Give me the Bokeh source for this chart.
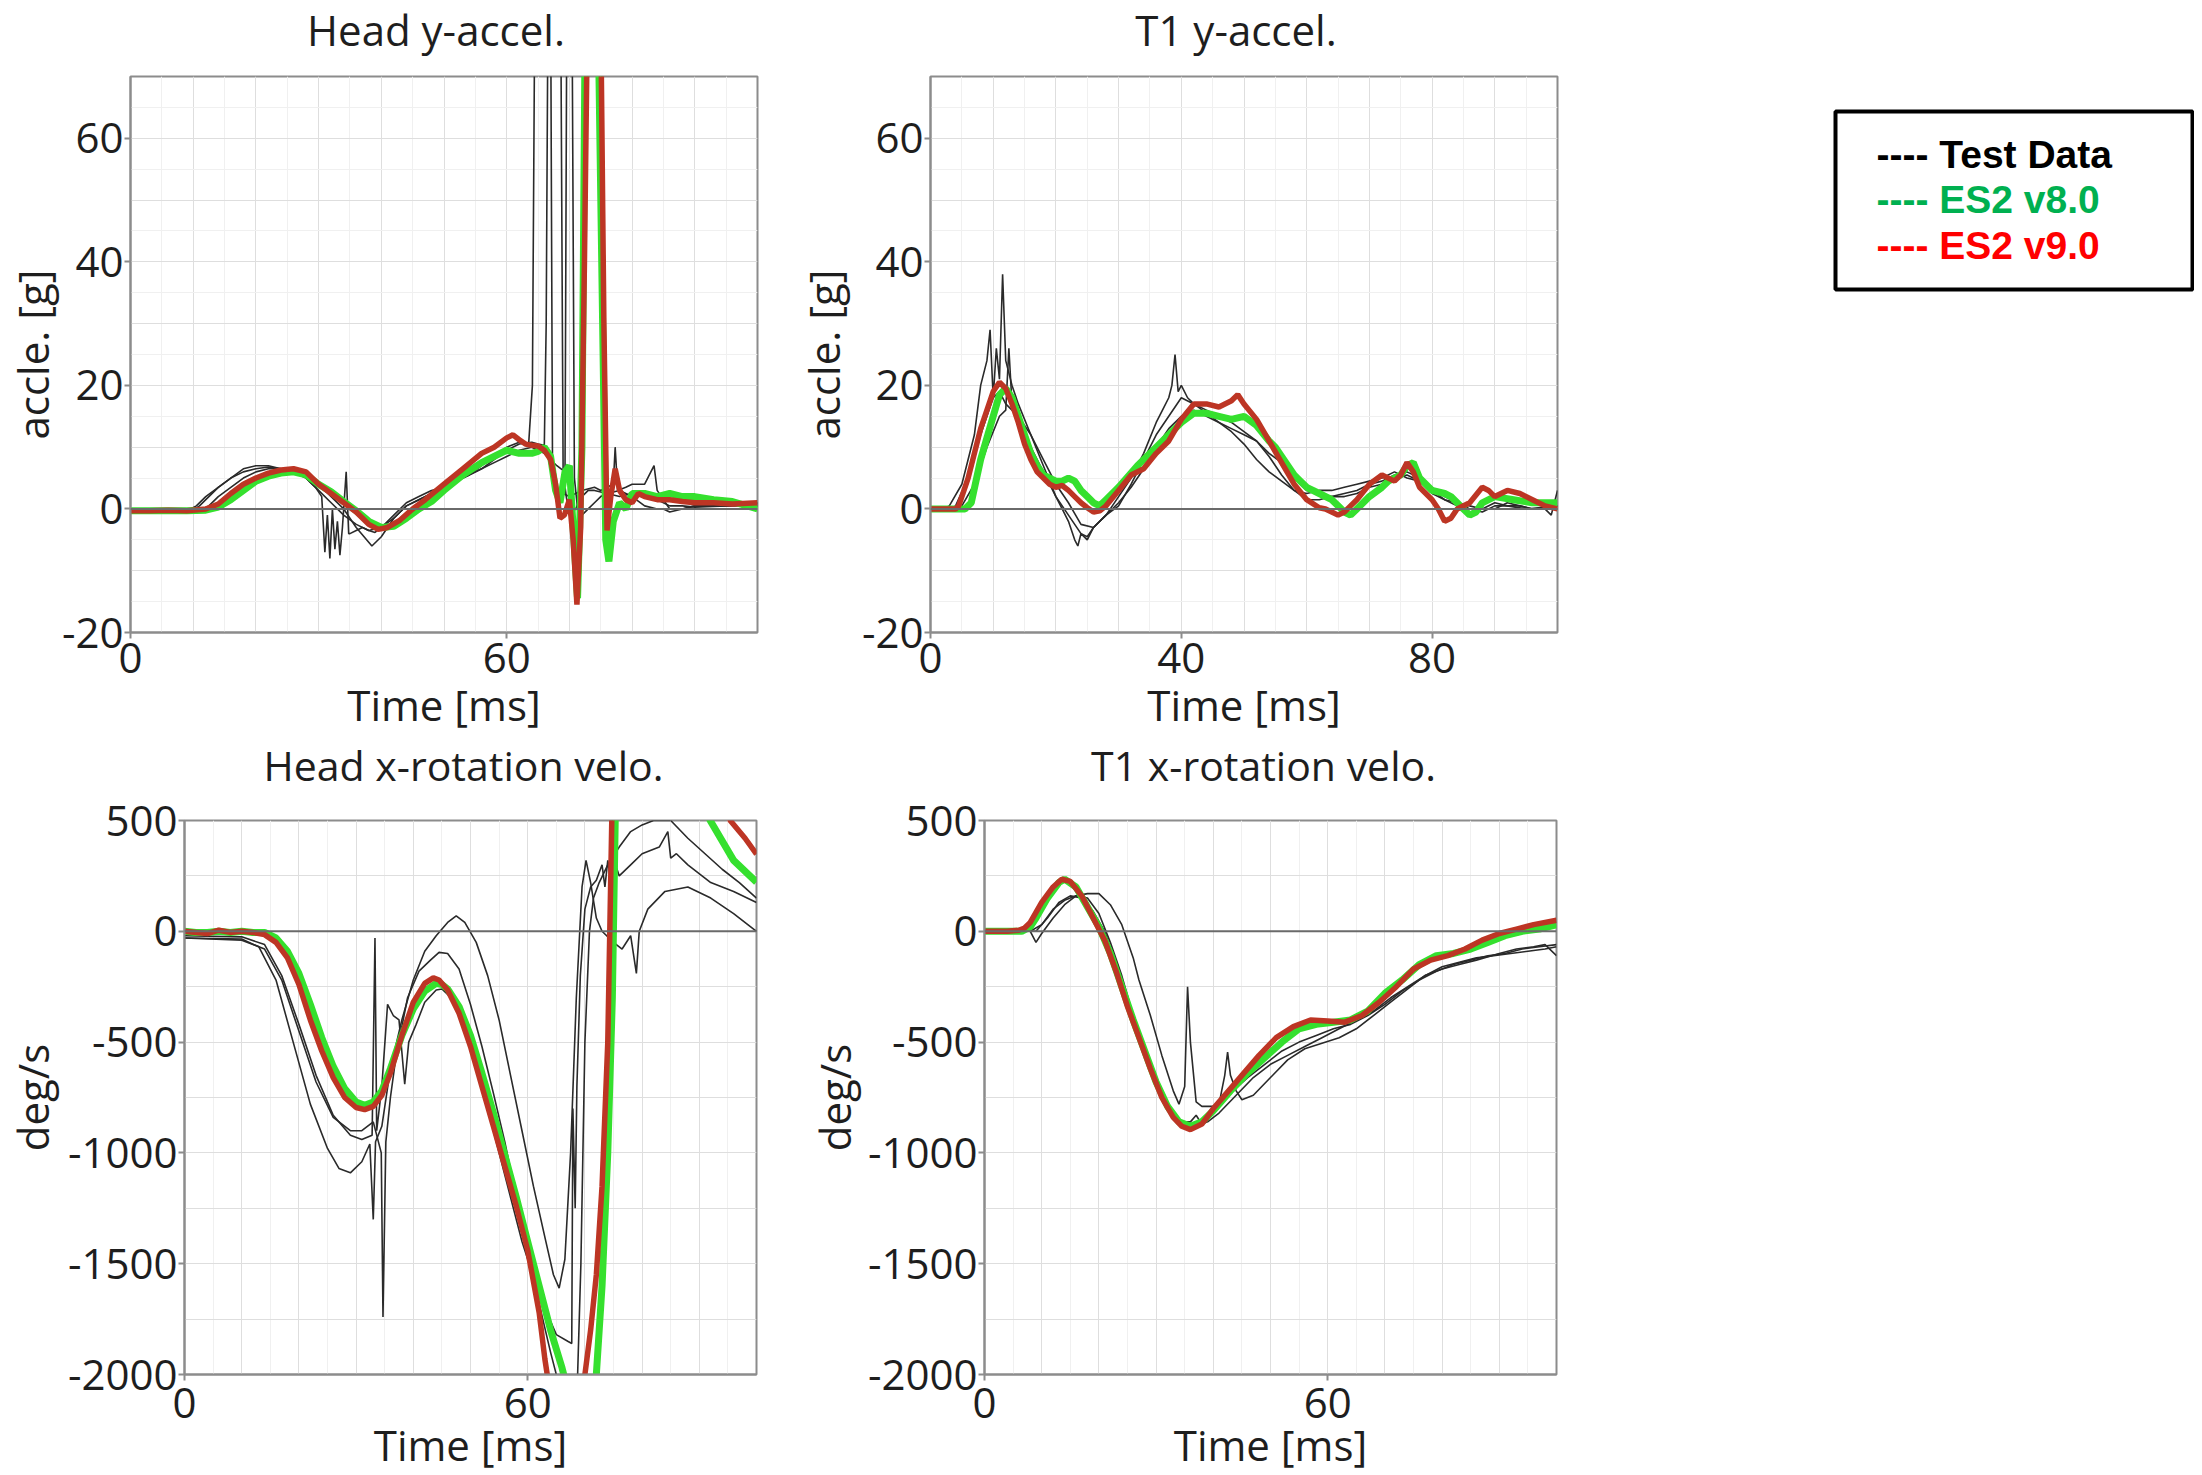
from bokeh.plotting import figure
from bokeh.layouts import row, column
from bokeh.models import Range1d, FixedTicker, Span
from bokeh.embed import file_html
from bokeh.resources import INLINE
from bokeh.core.properties import value

# ---------------- DATA ----------------
panel_titles = ["Head y-accel.", "T1 y-accel.", "Head x-rotation velo.", "T1 x-rotation velo."]
time_ticks_head = [0, 60]
time_ticks_t1acc = [0, 40, 80]
time_ticks_rot = [0, 60]
accel_ticks = [-20, 0, 20, 40, 60]
rot_ticks = [-2000, -1500, -1000, -500, 0, 500]

legend_labels = ["---- Test Data", "---- ES2 v8.0", "---- ES2 v9.0"]
legend_colors = ["#000000", "#00b050", "#ff0000"]

# Head y-accel. [g]
head_acc_v9_t = [0,3,6,9,12,14,16,18,20,22,24,26,28,30,32,34,36,38,39.5,41,43,45,47,50,53,56,58,60,61,62,63,64,65,66,67,67.8,68.5,69.2,70,70.6,71.2,71.8,72.4,73,74,75,75.5,76,76.6,77.3,78,79,80,81,82,84,86,88,90,93,96,100]
head_acc_v9_v = [-0.3,-0.3,-0.2,-0.3,0,0.8,2.5,4,5,5.8,6.3,6.5,6,4,2.5,1,-0.5,-2.5,-3.3,-3,-1.8,0,1.5,4,6.5,9,10,11.5,12,11.2,10.5,10.3,10.2,9.5,8,4,-1.5,-1,1.5,-5,-15.5,-3,40,90,90,80,30,-3.5,2,6.5,3,1.5,1,2.5,2,1.5,1.5,1.2,1,1,0.8,1]
head_acc_v8_t = [0,3,6,9,12,14,16,18,20,22,24,26,28,30,32,34,36,38,40,42,44,46,48,50,53,56,58,60,62,64,65,66,67,67.8,68.5,69.3,70,70.6,71.3,72,72.6,73.2,74.5,75.3,75.8,76.3,77,78,79,80,82,84,86,88,90,93,96,100]
head_acc_v8_v = [-0.3,-0.3,-0.3,-0.3,-0.2,0.3,1.5,3,4.5,5.3,5.8,6,5.5,4,2.8,1.2,-0.3,-2,-3,-2.8,-1.5,0,1.2,3,5.5,7.5,8.5,9.5,9,9,9.3,10,8.5,3,1,6,7,-3,-14.5,10,90,90,85,30,-5,-8.5,-2,1,0,2.5,2.5,2,2.5,2,2,1.5,1.2,0]
head_acc_test1_t = [0,5,9,10.5,12,14,16,18,20,22,24,26,28,30,32,34,36,38.5,40,42,44,46,48,50,52,54,56,58,60,62,63.5,64.1,64.5,67.0,67.3,68,70,72,74,75,76,77,77.3,77.7,79,80,82,83.5,84,86,88,90,95,100]
head_acc_test1_v = [-0.5,-0.5,-0.3,0.5,2,3.5,5,6.5,7,7,6.5,6,5.5,4,2,0,-3,-6,-4.5,-1.5,0.5,1.5,2.5,3.5,4.5,5.5,7,8.5,10,10.8,10.5,20,85,85,8,3,2,3,3.5,3,3.5,4,10,3,3.5,4,4,7,3,0,0,0.5,0.5,1]
head_acc_test2_t = [0,5,10,11,12.5,14,16,18,20,22,24,26,28,29.5,30.5,31,31.4,31.8,32.2,32.6,33,33.4,33.8,34.4,34.8,35,36,37,38,39,40,42,44,46,48,50,52,54,56,58,60,62,64,65,66,66.3,66.6,68.6,69,69.5,70,71,72,73,74,76,78,80,82,84,86,88,90,95,100]
head_acc_test2_v = [-0.3,-0.3,-0.2,0.5,2,3.5,5,6,6.5,6.8,6.5,6,5,3.5,2,-7,-1,-8,0,-6.5,-2,-7.5,-3,6,-4,-4,-3.5,-3,-3.5,-3.8,-3,-1,1,2,3,3.5,4.5,5.5,6.5,8,9.5,10.5,10.8,10.5,10.3,30,85,85,6,2,-1,0,2,3,3,2.5,2,2.5,2,1.5,0.5,0.5,0.3,0.5,0.8]
head_acc_test3_t = [0,6,11,12.5,14,16,18,20,22,24,26,28,30,32,34,36,38,40,42,44,46,48,50,52,54,56,58,60,62,64,66,68,69.3,69.6,70.4,70.8,71.5,72,73,74,75,76,78,80,82,84,85,86,88,90,95,100]
head_acc_test3_v = [-0.5,-0.5,-0.3,0.5,2,3.5,5,6,6.5,6.5,6,5,3,1,-1,-2.5,-3.5,-3,-1.5,0.5,1.5,2.5,3.5,4.5,5.5,6.5,7.5,8.5,9.5,10,9,7,6,85,85,5,-2,-1,0,1,2,2.5,3,2,0.5,0,0,-0.5,0,0.5,0.5,0.5]

# T1 y-accel. [g]
t1_acc_v9_t = [0,2,4,4.5,6,8,10,11,12,13,14,15,16,17,18,19,20,21,22,23,24,25,26,27,28,30,32,34,36,38,40,42,44,46,48,49,50,52,54,56,58,60,62,63,64,65,66,67,68,70,72,74,75,76,77,78,80,81,82,83,84,86,88,89,90,92,94,96,98,100]
t1_acc_v9_v = [0,0,0,0.5,5,13,19,20.5,19.5,17,14,10.5,8,6,5,4,3.5,3.8,3,2,1,0.2,-0.5,-0.3,0.5,3,5.5,6.5,9,11,14.5,17,17,16.5,17.5,18.5,17,14.5,11,7.5,4,1.5,0.2,0,-0.5,-1,-0.5,0.5,1.5,4,5.5,4.5,5.5,7.5,6,3.5,1.5,0,-2,-1.5,0,1,3.5,3,2,3,2.5,1.5,0.5,0]
t1_acc_v8_t = [0,3,5.5,6.5,8,10,11,12,13,14,15,16,17,18,19,20,21,22,23,24,25,26,27,28,30,33,36,38,40,42,44,46,48,50,52,54,55,56,57,58,59,60,62,64,65,66,67,68,70,72,73,74,75,76,77,78,80,82,83,84,85,86,87,88,90,93,96,100]
t1_acc_v8_v = [0,0,0,1,8,15,18.5,19.5,18,15,12,9,7,5.5,5,4.5,4.5,5,4.5,3,2,1,0.5,1.5,3.5,7,10,12,14,15.5,15.5,15,14.5,15,13.5,11,10,8.5,7,5.5,4.5,3.5,2.5,1.5,0.5,-0.5,-1,0,2,3.5,4.5,5,5.5,7,7.5,5,3,2.5,2,1,0,-1,-0.5,1,2,1.5,1,1]
t1_acc_test1_t = [0,2,3,5,7,8,9,9.5,10,10.5,11,11.5,12,13,14,16,18,20,21,22,23,23.5,24,25,26,27,28,29,30,32,34,36,37,38,38.5,39,39.5,40,41,42,44,46,48,50,52,54,56,58,60,62,64,66,68,70,72,74,76,78,80,82,84,86,88,90,92,94,96,98,99,100]
t1_acc_test1_v = [0,0,0.5,4,12,20,24,29,18,26,21,38,24,20,17,12,7,2,0,-2,-5,-6,-4,-5,-3,-2,-1,0.5,2,5,9,14,16,18,20,25,19,20,18,17,15.5,14,12.5,10.5,8,6,4.5,3,2.5,3,3,3.5,4,4.5,5,6,5,4.5,2.5,1.5,1,0,0,1,0.5,0.5,0,0,-1,3]
t1_acc_test2_t = [0,3,4,6,8,10,11,12,13,14,16,18,20,22,24,25,26,28,30,32,34,36,38,40,42,44,46,48,50,52,54,56,58,60,62,64,66,68,70,72,74,76,78,80,82,84,86,88,90,92,95,100]
t1_acc_test2_v = [0,0,0.5,5,12,18,19,17,16,15,10,6,2,-1,-4,-4.5,-3,-1,0.5,4,8,12,15,18,17,16,15,14,12.5,11,9,7.5,5,3,2.5,2,2,2.5,3.5,4,5,5.5,4.5,3,1.5,0.5,0,-0.5,0.5,0.5,0,0.5]
t1_acc_test3_t = [0,4,5,7,9,11,12,12.5,13,14,16,18,20,22,24,26,28,30,32,34,36,38,40,42,44,46,48,50,52,54,56,58,60,62,64,66,68,70,72,74,76,78,80,82,84,86,88,90,92,94,96,98,100]
t1_acc_test3_v = [0,0,0.5,4,10,15,16,26,17,15,12,8,4,1,-2.5,-3,-1,1,3.5,6.5,10,13,15,16,15,14,13,12,11,8.5,5.5,3,1.5,1.5,2,2.5,3,4,4.5,5.5,6,5,3.5,2,1,0.5,0,0,1,0.5,0,0,0]

# Head x-rotation velo. [deg/s]
head_rot_v9_t = [0,2,4,6,8,10,12,14,16,18,20,22,24,26,28,30,31.5,33,34.5,36,38,40,42,43.5,44.5,46,48,50,52,54,56,58,60,62,63,64,66,68,69.5,70,71,72,73,74,74.7,76,90,95.4,98,100]
head_rot_v9_v = [0,-5,-10,5,-5,0,-5,-15,-50,-120,-240,-400,-540,-660,-750,-795,-805,-790,-740,-640,-470,-320,-235,-210,-220,-265,-370,-520,-700,-880,-1060,-1240,-1440,-1720,-1930,-2100,-2300,-2300,-2150,-2000,-1800,-1550,-1150,-500,500,1100,800,500,420,348]
head_rot_v8_t = [0,2,4,6,8,10,12,14,16,18,20,22,24,26,28,30,31.5,33,34.5,36,38,40,42,44,45,46,48,50,52,54,56,58,60,62,64,66,66.5,68,70,71.5,72,73,74,74.8,75.3,80,91.9,96,100]
head_rot_v8_v = [0,-5,-5,0,-5,0,-5,-5,-30,-90,-190,-330,-480,-610,-710,-770,-785,-770,-720,-620,-470,-350,-270,-235,-240,-260,-340,-470,-640,-820,-1010,-1200,-1400,-1600,-1800,-1970,-2020,-2200,-2200,-2100,-2000,-1600,-1000,-300,500,1300,500,320,222]
head_rot_test1_t = [0,10,13,16,19,22,25,27,29,31,32.4,33,33.4,34.5,36,38,40,42,44,46,47.5,49,51,53,55,57,59,61,63,64.5,65.5,66.5,67.5,68.5,69.5,70.2,71,72,73,75,76.5,78,79,79.5,81,84,88,92,96,100]
head_rot_test1_v = [-30,-35,-70,-220,-500,-780,-980,-1070,-1090,-1040,-960,-1300,-950,-880,-620,-400,-220,-90,-20,40,70,40,-50,-200,-400,-650,-900,-1150,-1380,-1550,-1610,-1480,-1000,-300,200,320,220,60,0,-50,-80,-20,-190,0,100,180,200,150,80,0]
head_rot_test2_t = [0,10,14,17,20,23,26,29,31,32.8,33.3,33.6,34.5,35.5,36.5,37.5,38.5,39.2,40.5,42,44,45,47,49,51,53,55,57,59,61,63,65,67,67.7,67.9,68.3,68.6,69.2,70,71,72,73,73.5,74,74.5,75,76,78,80,83,84.5,85,86,88,92,96,100]
head_rot_test2_v = [-20,-25,-60,-200,-420,-650,-830,-920,-940,-920,-30,-900,-700,-330,-380,-400,-690,-500,-420,-320,-265,-260,-310,-430,-600,-800,-1000,-1200,-1400,-1560,-1700,-1820,-1850,-1860,-800,-1250,-700,-200,100,200,230,300,200,320,230,330,250,300,350,380,450,330,350,300,220,180,130]
head_rot_test3_t = [0,10,14,17,20,23,26,29,31,33,34.4,34.7,35.2,36,37,39,41,43,44.5,46,48,50,52,54,56,58,60,62,64,66,68.5,69.3,70,70.8,71.5,72.5,74,76,78,80,82,85,88,91,94,97,100]
head_rot_test3_v = [-30,-40,-80,-220,-450,-680,-840,-900,-900,-860,-1000,-1740,-950,-750,-560,-300,-180,-130,-95,-100,-170,-330,-520,-730,-950,-1200,-1450,-1680,-1900,-2100,-2200,-1500,-500,0,150,220,300,380,450,480,500,500,420,350,280,220,150]

# T1 x-rotation velo. [deg/s]
t1_rot_v9_t = [0,2,4,6,7,8,10,12,13.5,15,17,19,21,23,25,27,29,31,33,34.5,36,38,40,42,45,48,51,54,57,60,63,66,69,72,75,78,81,84,87,90,93,96,100]
t1_rot_v9_v = [0,0,0,5,15,40,130,200,235,225,160,60,-40,-180,-340,-480,-620,-750,-840,-880,-895,-870,-800,-740,-650,-560,-480,-430,-400,-405,-410,-380,-320,-250,-170,-130,-110,-80,-40,-10,10,30,50]
t1_rot_v8_t = [0,2,4,6.5,8,9,11,13,14,16,18,20,22,24,26,28,30,32,34,36,38,40,43,46,49,52,55,58,61,64,67,70,73,76,79,82,85,88,91,94,97,100]
t1_rot_v8_v = [0,0,0,0,20,60,150,220,235,200,110,20,-100,-250,-400,-540,-680,-790,-860,-880,-860,-810,-720,-640,-570,-500,-440,-420,-410,-400,-360,-280,-220,-150,-110,-100,-80,-50,-20,0,10,30]
t1_rot_test1_t = [0,8,9,10,12,14,16,18,20,22,24,26,27,29,31,33,34,35,35.5,36,37,38,40,41,42,42.5,43,44,45,47,50,53,56,59,62,65,68,71,74,77,80,83,86,90,93,96,98,100]
t1_rot_test1_v = [0,0,-50,-10,60,120,160,170,170,120,30,-120,-220,-380,-560,-720,-780,-700,-250,-500,-770,-790,-790,-780,-650,-545,-650,-720,-760,-740,-660,-580,-530,-505,-480,-440,-380,-320,-260,-200,-170,-150,-130,-100,-80,-70,-60,-110]
t1_rot_test2_t = [0,8,10,12,14,16,18,20,22,24,26,28,30,32,34,36,37,38,40,43,46,49,52,55,58,61,64,67,70,73,76,79,82,85,88,91,94,97,100]
t1_rot_test2_v = [0,0,30,100,140,160,150,80,-50,-200,-380,-550,-700,-810,-860,-860,-830,-870,-820,-730,-660,-600,-540,-500,-470,-440,-420,-380,-330,-270,-220,-180,-150,-130,-110,-100,-80,-70,-60]
t1_rot_test3_t = [0,9,11,13,15,17,19,21,23,25,27,29,31,33,35,37,39,41,44,47,50,53,56,59,62,65,68,71,74,77,80,83,86,89,92,95,98,100]
t1_rot_test3_v = [0,0,60,130,160,150,90,0,-150,-320,-480,-630,-760,-840,-870,-880,-860,-820,-740,-660,-600,-560,-520,-480,-440,-400,-360,-300,-250,-200,-160,-140,-120,-110,-100,-90,-80,-70]

# ---------------- STYLE / LAYOUT ----------------
FONT = "Open Sans"
TXT = "#1e1e1e"
FRAME = "#8c8c8c"
GRID = "#dedede"
MINOR = "#f0f0f0"
TEST_C = "#2a2a2a"
V8_C = "#35e02e"
V9_C = "#bd3524"
FS = "42px"

ROW1 = dict(fh=556, bt=1, bb=104)
ROW2 = dict(fh=554, bt=28, bb=100)
STRIP1_H, STRIP1_Y, STRIP1_FS = 75, 29, "42px"   # title strip above row 1 (text centre from strip top)
STRIP2_H, STRIP2_Y, STRIP2_FS = 56, 28, "41px"   # title strip above row 2


def bare(width, height):
    f = figure(width=width, height=height, x_range=Range1d(0, width), y_range=Range1d(height, 0),
               x_axis_location=None, y_axis_location=None, toolbar_location=None, output_backend="svg",
               min_border=0, outline_line_color=None)
    f.xgrid.visible = False
    f.ygrid.visible = False
    return f


def title_strip(text, width, height, cx, cy, fs):
    f = bare(width, height)
    f.text(x=[cx], y=[cy], text=[text], text_align="center", text_baseline="alphabetic",
           text_font=value(FONT), text_font_size=value(fs), text_color=TXT)
    return f


def panel(ylabel, x_ticks, y_ticks, y_lo, y_hi, gx, gx_minor, gy, gy_minor,
          fw, bl, br, rowcfg, ylab_standoff, xtick_standoff, xlab_standoff, tests, v8, v9):
    fh = rowcfg["fh"]
    p = figure(frame_width=fw, frame_height=fh, x_range=Range1d(0, 100), y_range=Range1d(y_lo, y_hi),
               min_border_left=bl, min_border_right=br,
               min_border_top=rowcfg["bt"], min_border_bottom=rowcfg["bb"],
               toolbar_location=None, output_backend="svg",
               outline_line_color=FRAME, outline_line_width=2)

    p.xaxis.ticker = FixedTicker(ticks=x_ticks)
    p.xaxis.major_label_overrides = {t: str(t) for t in x_ticks}
    p.yaxis.ticker = FixedTicker(ticks=y_ticks)
    p.yaxis.major_label_overrides = {t: str(t) for t in y_ticks}
    for ax in (p.xaxis[0], p.yaxis[0]):
        ax.minor_tick_line_color = None
        ax.major_tick_in = 0
        ax.major_tick_out = 6
        ax.major_tick_line_color = FRAME
        ax.major_tick_line_width = 2
        ax.axis_line_color = FRAME
        ax.axis_line_width = 2
        ax.major_label_text_font = FONT
        ax.major_label_text_font_size = FS
        ax.major_label_text_color = TXT
        ax.axis_label_text_font = FONT
        ax.axis_label_text_font_size = FS
        ax.axis_label_text_font_style = "normal"
        ax.axis_label_text_color = TXT
    p.xaxis.axis_label = "Time [ms]"
    p.yaxis.axis_label = ylabel
    p.xaxis.major_label_standoff = xtick_standoff
    p.xaxis.axis_label_standoff = xlab_standoff
    p.yaxis.major_label_standoff = 1
    p.yaxis.axis_label_standoff = ylab_standoff

    p.xgrid.ticker = FixedTicker(ticks=gx, minor_ticks=gx_minor)
    p.ygrid.ticker = FixedTicker(ticks=gy, minor_ticks=gy_minor)
    for g in (p.xgrid[0], p.ygrid[0]):
        g.grid_line_color = GRID
        g.grid_line_width = 1
        g.minor_grid_line_color = MINOR
        g.minor_grid_line_width = 1

    p.add_layout(Span(location=0, dimension="width", line_color="#6a6a6a", line_width=2))

    for t, v in tests:
        p.line(t, v, line_color=TEST_C, line_width=1.6)
    p.line(v8[0], v8[1], line_color=V8_C, line_width=7)
    p.line(v9[0], v9[1], line_color=V9_C, line_width=5.5)
    return p


gx = list(range(10, 100, 10))
gx_minor = list(range(5, 100, 10))
gy_acc = [v for v in range(-10, 70, 10) if v != 0]
gy_acc_minor = list(range(-15, 70, 10))
gy_rot = [v for v in range(-1750, 500, 250) if v != 0]

# column widths: (left border, frame width, right border)
C1 = (122, 627, 10)
C2 = (163, 627, 43)
C3 = (177, 572, 10)
C4 = (218, 572, 43)

p1 = panel("accle. [g]", time_ticks_head, accel_ticks, -20, 70, gx, gx_minor, gy_acc, gy_acc_minor,
           C1[1], C1[0], C1[2], ROW1, -2, 4, 0,
           [(head_acc_test1_t, head_acc_test1_v), (head_acc_test2_t, head_acc_test2_v), (head_acc_test3_t, head_acc_test3_v)],
           (head_acc_v8_t, head_acc_v8_v), (head_acc_v9_t, head_acc_v9_v))
p2 = panel("accle. [g]", time_ticks_t1acc, accel_ticks, -20, 70, gx, gx_minor, gy_acc, gy_acc_minor,
           C2[1], C2[0], C2[2], ROW1, 7, 4, 0,
           [(t1_acc_test1_t, t1_acc_test1_v), (t1_acc_test2_t, t1_acc_test2_v), (t1_acc_test3_t, t1_acc_test3_v)],
           (t1_acc_v8_t, t1_acc_v8_v), (t1_acc_v9_t, t1_acc_v9_v))
p3 = panel("deg/s", time_ticks_rot, rot_ticks, -2000, 500, gx, gx_minor, gy_rot, [],
           C3[1], C3[0], C3[2], ROW2, 4, 7, -5,
           [(head_rot_test1_t, head_rot_test1_v), (head_rot_test2_t, head_rot_test2_v), (head_rot_test3_t, head_rot_test3_v)],
           (head_rot_v8_t, head_rot_v8_v), (head_rot_v9_t, head_rot_v9_v))
p4 = panel("deg/s", time_ticks_rot, rot_ticks, -2000, 500, gx, gx_minor, gy_rot, [],
           C4[1], C4[0], C4[2], ROW2, 2, 7, -5,
           [(t1_rot_test1_t, t1_rot_test1_v), (t1_rot_test2_t, t1_rot_test2_v), (t1_rot_test3_t, t1_rot_test3_v)],
           (t1_rot_v8_t, t1_rot_v8_v), (t1_rot_v9_t, t1_rot_v9_v))

t1 = title_strip(panel_titles[0], sum(C1), STRIP1_H, C1[0] + C1[1] / 2, STRIP1_Y, STRIP1_FS)
t2 = title_strip(panel_titles[1], sum(C2), STRIP1_H, C2[0] + C2[1] / 2, STRIP1_Y, STRIP1_FS)
t3 = title_strip(panel_titles[2], sum(C3), STRIP2_H, C3[0] + C3[1] / 2, STRIP2_Y, STRIP2_FS)
t4 = title_strip(panel_titles[3], sum(C4), STRIP2_H, C4[0] + C4[1] / 2, STRIP2_Y, STRIP2_FS)

# legend panel: same vertical borders as the first row
LW = 594
BOX_L, BOX_R, BOX_TOP, BOX_BOT = 235, 592, 35, 213      # box, in px from frame left / top
TXT_X, TXT_Y = 41, [78, 123, 169]                        # text offset inside box / rows from frame top
lg = figure(frame_width=LW, frame_height=ROW1["fh"], x_range=Range1d(0, LW), y_range=Range1d(ROW1["fh"], 0),
            x_axis_location=None, y_axis_location=None, toolbar_location=None, output_backend="svg",
            min_border_left=0, min_border_right=0, min_border_top=ROW1["bt"], min_border_bottom=ROW1["bb"],
            outline_line_color=None)
lg.xgrid.visible = False
lg.ygrid.visible = False
lg.quad(left=[BOX_L], right=[BOX_R], top=[BOX_TOP], bottom=[BOX_BOT], fill_color=None,
        line_color="black", line_width=4)
lg.text(x=[BOX_L + TXT_X] * 3, y=TXT_Y, text=legend_labels, text_color=legend_colors,
        text_font=value("Liberation Sans"), text_font_style="bold", text_font_size="39px",
        text_baseline="alphabetic", text_align="left")

layout = column(row(t1, t2), row(p1, p2, lg), row(t3, t4), row(p3, p4))
open("out.html", "w").write(file_html(layout, INLINE, title="ES2 comparison"))
